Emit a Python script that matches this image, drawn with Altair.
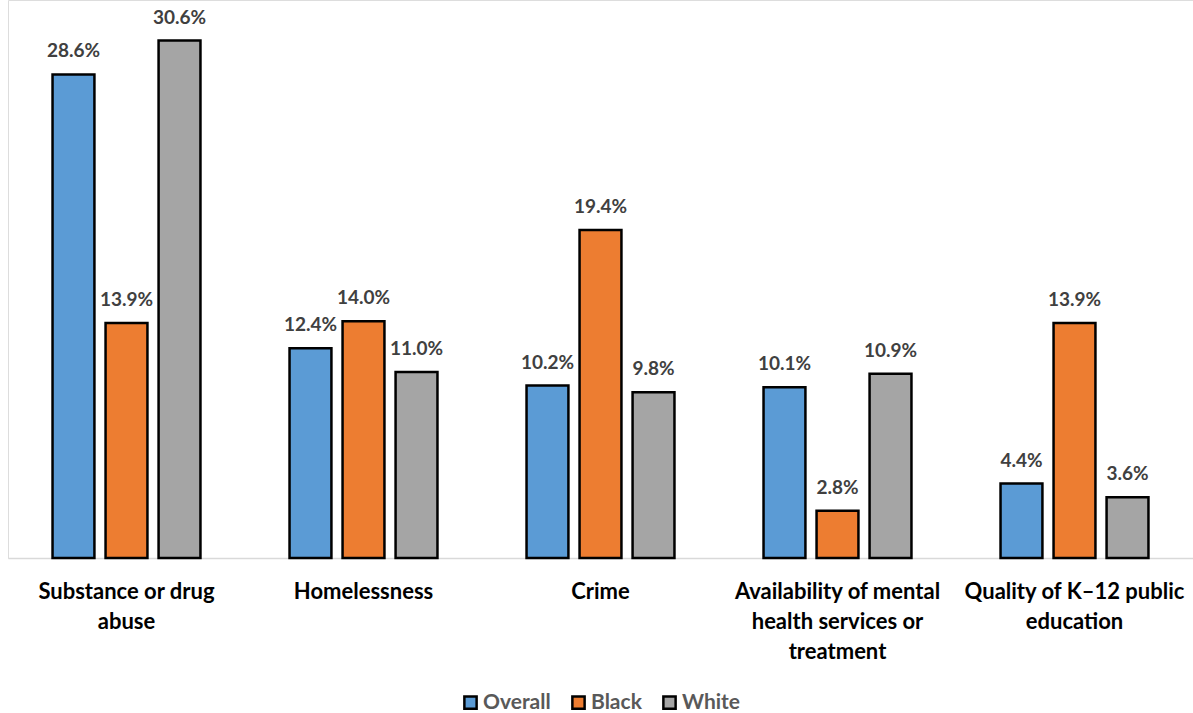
import altair as alt
import pandas as pd

categories = [
    "Substance or drug|abuse",
    "Homelessness",
    "Crime",
    "Availability of mental|health services or|treatment",
    "Quality of K\u201312 public|education",
]
series = ["Overall", "Black", "White"]
overall = [28.6, 12.4, 10.2, 10.1, 4.4]
black = [13.9, 14.0, 19.4, 2.8, 13.9]
white = [30.6, 11.0, 9.8, 10.9, 3.6]
colors = ["#5B9BD5", "#ED7D31", "#A5A5A5"]

rows = []
for i, c in enumerate(categories):
    for s, vals in zip(series, [overall, black, white]):
        rows.append({"category": c, "series": s, "value": vals[i],
                     "label": f"{vals[i]:.1f}%"})
df = pd.DataFrame(rows)

FONT = "Lato"

x = alt.X("category:N", sort=categories, title=None,
          scale=alt.Scale(paddingInner=0, paddingOuter=0),
          axis=alt.Axis(labelAngle=0, labelExpr="split(datum.value, '|')",
                        labelFont=FONT, labelFontSize=22, labelFontWeight="bold",
                        labelColor="#000000", labelLineHeight=30, labelPadding=23,
                        labelBaseline="top",
                        ticks=False, domainColor="#D9D9D9", domainWidth=1.5,
                        labelLimit=400))
xoff = alt.XOffset("series:N", sort=series,
                   scale=alt.Scale(paddingInner=0.21, paddingOuter=0.84))
y = alt.Y("value:Q", scale=alt.Scale(domain=[0, 33], nice=False), axis=None)

bars = alt.Chart(df).mark_bar(stroke="#000000", strokeWidth=2.5).encode(
    x=x, xOffset=xoff, y=y,
    color=alt.Color("series:N", sort=series,
                    scale=alt.Scale(domain=series, range=colors),
                    legend=alt.Legend(title=None, orient="none", direction="horizontal",
                                      legendX=452, legendY=692,
                                      symbolType="square", symbolSize=150,
                                      symbolStrokeColor="#000000", symbolStrokeWidth=2.5,
                                      labelFont=FONT, labelFontSize=21,
                                      labelFontWeight="bold", labelColor="#595959",
                                      columnPadding=16, labelOffset=2)),
)

texts = alt.Chart(df).mark_text(font=FONT, fontSize=19, fontWeight="bold",
                                color="#404040", baseline="bottom", dy=-13).encode(
    x=x, xOffset=xoff, y=y, text="label:N")

chart = alt.layer(bars, texts).properties(
    width=1185, height=558,
    padding={"left": 8, "top": 0, "right": 0, "bottom": 155},
    autosize=alt.AutoSizeParams(type="none"),
).configure_view(stroke=None).configure(background="#FFFFFF")

chart.save("out.html", embed_options={"renderer": "svg", "actions": False})
